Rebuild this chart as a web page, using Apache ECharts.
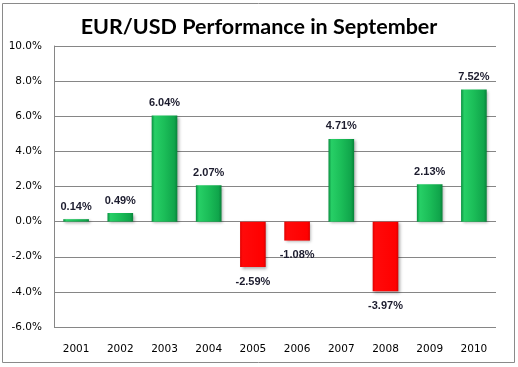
<!DOCTYPE html>
<html><head><meta charset="utf-8">
<script src="https://cdn.jsdelivr.net/npm/echarts@6/dist/echarts.min.js"></script>
<style>html,body{margin:0;padding:0;background:#fff}#c{width:518px;height:367px}</style>
</head><body><div id="c"></div>
<script>
const titleText = 'EUR/USD Performance in September';
const years = ['2001','2002','2003','2004','2005','2006','2007','2008','2009','2010'];
const changes = [0.14, 0.49, 6.04, 2.07, -2.59, -1.08, 4.71, -3.97, 2.13, 7.52];
const yMin = -6, yMax = 10, yStep = 2;

const green = {type:'linear',x:0,y:0,x2:1,y2:0,colorStops:[
  {offset:0,color:'#0a8f40'},{offset:0.12,color:'#27cf66'},{offset:0.5,color:'#1bbd58'},{offset:0.88,color:'#10a54b'},{offset:1,color:'#08833a'}]};
const red = {type:'linear',x:0,y:0,x2:1,y2:0,colorStops:[
  {offset:0,color:'#e00000'},{offset:0.1,color:'#ff0a0a'},{offset:0.9,color:'#ff0000'},{offset:1,color:'#d80000'}]};

const data = changes.map(v => ({
  value: v,
  itemStyle: {color: v >= 0 ? green : red},
  label: {position: v >= 0 ? 'top' : 'bottom', distance: v >= 0 ? 7 : 9}
}));

const chart = echarts.init(document.getElementById('c'));
chart.setOption({
  animation: false,
  backgroundColor: '#fff',
  title: {text: titleText, left: 'center', top: 11,
    textStyle: {fontFamily: 'Lato', fontWeight: 'bold', fontSize: 21.5, color: '#000'}},
  grid: {left: 54, right: 22, top: 46, bottom: 40},
  xAxis: {type: 'category', data: years,
    axisLine: {show: false}, axisTick: {show: false},
    axisLabel: {fontFamily: 'DejaVu Sans', fontSize: 10.5, color: '#000', margin: 17}},
  yAxis: {type: 'value', min: yMin, max: yMax, interval: yStep,
    axisLine: {show: true, lineStyle: {color: '#868686', width: 1}},
    axisTick: {show: false},
    splitLine: {lineStyle: {color: '#868686', width: 1}},
    axisLabel: {fontFamily: 'DejaVu Sans', fontSize: 10.5, color: '#000', margin: 12,
      formatter: v => v.toFixed(1) + '%'}},
  graphic: [{type: 'rect', shape: {x: 2.5, y: 3.5, width: 512, height: 359},
    style: {fill: 'none', stroke: '#8a8a8a', lineWidth: 1}, z: -1}],
  series: [{type: 'bar', data: data, barCategoryGap: '42%',
    itemStyle: {shadowColor: 'rgba(0,0,0,0.35)', shadowBlur: 3, shadowOffsetX: 1.5, shadowOffsetY: 1.5},
    label: {show: true, fontFamily: 'Liberation Sans', fontWeight: 'bold', fontSize: 11, color: '#1c1c2e',
      formatter: p => p.value.toFixed(2) + '%'}}]
});
</script></body></html>
